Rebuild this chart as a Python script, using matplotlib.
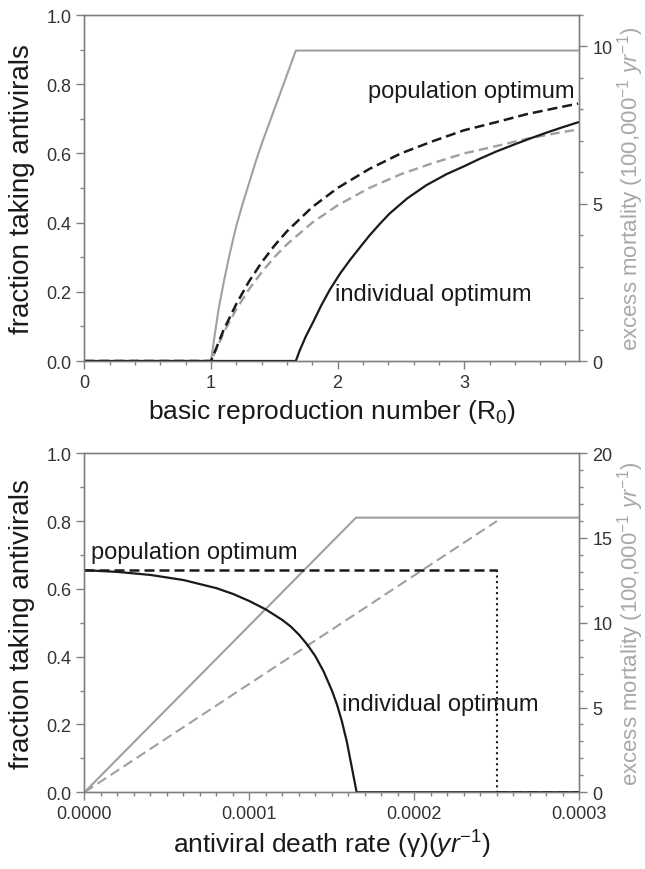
# two-panel antiviral optimum figure

import numpy as np
import matplotlib
matplotlib.use("Agg")
import matplotlib.pyplot as plt
from matplotlib.ticker import MultipleLocator, FormatStrFormatter

plt.rcParams['font.family'] = ['Liberation Sans', 'DejaVu Sans']
plt.rcParams['mathtext.fontset'] = 'custom'
plt.rcParams['mathtext.rm'] = 'Liberation Sans'
plt.rcParams['mathtext.it'] = 'Liberation Sans:italic'

# ---- top panel: fraction vs R0 ----
r0_pop = [0.0, 1.0, 1.1, 1.2, 1.3, 1.4, 1.5, 1.6, 1.8, 2.0, 2.25, 2.5, 2.75, 3.0, 3.25, 3.5, 3.75, 3.9]
frac_pop = [0.0, 0.0, 0.09, 0.165, 0.23, 0.285, 0.333, 0.375, 0.445, 0.5, 0.555, 0.6, 0.635, 0.667, 0.69, 0.714, 0.733, 0.744]

r0_ind = [0.0, 1.67, 1.70, 1.75, 1.81, 1.87, 1.94, 2.02, 2.1, 2.18, 2.25, 2.33, 2.41, 2.55, 2.7,
          2.86, 3.0, 3.12, 3.25, 3.39, 3.52, 3.65, 3.78, 3.9]
frac_ind = [0.0, 0.0, 0.03, 0.072, 0.115, 0.16, 0.207, 0.253, 0.293, 0.33, 0.362, 0.395, 0.426, 0.47, 0.508,
            0.54, 0.563, 0.584, 0.605, 0.625, 0.643, 0.66, 0.676, 0.69]

# excess mortality (right axis)
r0_mort = [0.0, 1.0, 1.03, 1.06, 1.1, 1.15, 1.2, 1.25, 1.3, 1.35, 1.4, 1.45, 1.5, 1.55, 1.6, 1.67, 3.9]
mort_none = [0.0, 0.0, 0.85, 1.65, 2.5, 3.45, 4.3, 5.0, 5.65, 6.3, 6.9, 7.45, 8.0, 8.55, 9.1, 9.87, 9.87]
mort_pop = [0.0, 0.0, 0.9, 1.65, 2.28, 2.82, 3.3, 3.71, 4.4, 4.95, 5.5, 5.94, 6.29, 6.6, 6.83, 7.07, 7.26, 7.36]

# ---- bottom panel: fraction vs antiviral death rate ----
gamma_ind = [0.0, 0.00002, 0.00004, 0.00006, 0.00008, 0.00009, 0.0001, 0.00011, 0.00012, 0.000125,
             0.00013, 0.000135, 0.00014, 0.000145, 0.00015, 0.000153, 0.000156, 0.000159, 0.000161,
             0.000163, 0.0001645, 0.000165, 0.0003]
frac_ind2 = [0.655, 0.65, 0.641, 0.626, 0.602, 0.585, 0.564, 0.539, 0.508, 0.489,
             0.465, 0.436, 0.401, 0.356, 0.3, 0.26, 0.21, 0.15, 0.1,
             0.05, 0.012, 0.0, 0.0]

gamma_pop = [0.0, 0.00025]
frac_pop2 = [0.655, 0.655]
gamma_cut = 0.00025
gamma_zero = [0.00025, 0.0003]

gamma_mort_none = [0.0, 0.0001646, 0.0003]
mort_none2 = [0.0, 16.2, 16.2]
gamma_mort_pop = [0.0, 0.00025]
mort_pop2 = [0.0, 16.0]

BLACK = '#1a1a1a'
GREY = '#a0a0a0'
GREY_LBL = '#a8a8a8'
SPINE = '#808080'
TICKC = '#333333'

fig = plt.figure(figsize=(6.45, 8.7), dpi=100)
ax1 = fig.add_axes([0.1309, 0.5839, 0.7674, 0.3977])
ax3 = fig.add_axes([0.1309, 0.0882, 0.7674, 0.3897])


def style(ax, ax2):
    for a in (ax, ax2):
        for s in a.spines.values():
            s.set_color(SPINE)
            s.set_linewidth(1.0)
        a.tick_params(which='major', direction='out', length=6, width=1, color=SPINE,
                      labelsize=13, labelcolor=TICKC)
        a.tick_params(which='minor', direction='out', length=3, width=1, color=SPINE)
    ax.set_ylim(0, 1)
    ax.yaxis.set_major_locator(MultipleLocator(0.2))
    ax.yaxis.set_minor_locator(MultipleLocator(0.1))
    ax.yaxis.set_major_formatter(FormatStrFormatter('%.1f'))
    ax.set_ylabel('fraction taking antivirals', fontsize=20, color=BLACK, labelpad=8)
    ax2.yaxis.set_minor_locator(MultipleLocator(1))
    ax2.set_ylabel(r'excess mortality ($\mathit{100{,}000^{-1}\ yr^{-1}}$)',
                   fontsize=16, color=GREY_LBL, labelpad=2)


# top panel
ax1b = ax1.twinx()
ax1b.plot(r0_mort, mort_none, color=GREY, lw=1.5, zorder=1)
ax1b.plot(r0_pop, mort_pop, color=GREY, lw=1.7, dashes=(4, 2.2), zorder=1)
ax1b.set_ylim(0, 11)
ax1b.yaxis.set_major_locator(MultipleLocator(5))
ax1.set_zorder(ax1b.get_zorder() + 1)
ax1.patch.set_visible(False)
ax1.plot(r0_pop, frac_pop, color=BLACK, lw=1.8, dashes=(4, 2))
ax1.plot(r0_ind, frac_ind, color=BLACK, lw=1.6)
ax1.set_xlim(0, 3.91)
ax1.xaxis.set_major_locator(MultipleLocator(1))
ax1.xaxis.set_minor_locator(MultipleLocator(0.2))
ax1.set_xlabel(r'basic reproduction number (R$_0$)', fontsize=19, color=BLACK, labelpad=4)
ax1.text(3.87, 0.78, 'population optimum', fontsize=17, color=BLACK, ha='right', va='center')
ax1.text(1.98, 0.194, 'individual optimum', fontsize=17, color=BLACK, ha='left', va='center')
style(ax1, ax1b)

# bottom panel
ax3b = ax3.twinx()
ax3b.plot(gamma_mort_none, mort_none2, color=GREY, lw=1.5, zorder=1)
ax3b.plot(gamma_mort_pop, mort_pop2, color=GREY, lw=1.5, dashes=(5, 2.5), zorder=1)
ax3b.set_ylim(0, 20)
ax3b.yaxis.set_major_locator(MultipleLocator(5))
ax3.set_zorder(ax3b.get_zorder() + 1)
ax3.patch.set_visible(False)
ax3.plot(gamma_pop, frac_pop2, color=BLACK, lw=1.8, dashes=(4, 2))
ax3.plot([gamma_cut, gamma_cut], [frac_pop2[-1], 0], color=BLACK, lw=1.5, ls=':')
ax3.plot(gamma_zero, [0, 0], color=BLACK, lw=1.8, dashes=(4, 2))
ax3.plot(gamma_ind, frac_ind2, color=BLACK, lw=1.6)
ax3.set_xlim(0, 0.0003)
ax3.xaxis.set_major_locator(MultipleLocator(0.0001))
ax3.xaxis.set_minor_locator(MultipleLocator(0.00001))
ax3.xaxis.set_major_formatter(FormatStrFormatter('%.4f'))
ax3.set_xlabel(r'antiviral death rate (γ)($\mathit{yr}^{-1}$)', fontsize=19, color=BLACK, labelpad=4)
ax3.text(0.000004, 0.709, 'population optimum', fontsize=17, color=BLACK, ha='left', va='center')
ax3.text(0.0001559, 0.26, 'individual optimum', fontsize=17, color=BLACK, ha='left', va='center')
style(ax3, ax3b)

plt.savefig('out.png', dpi=100)
